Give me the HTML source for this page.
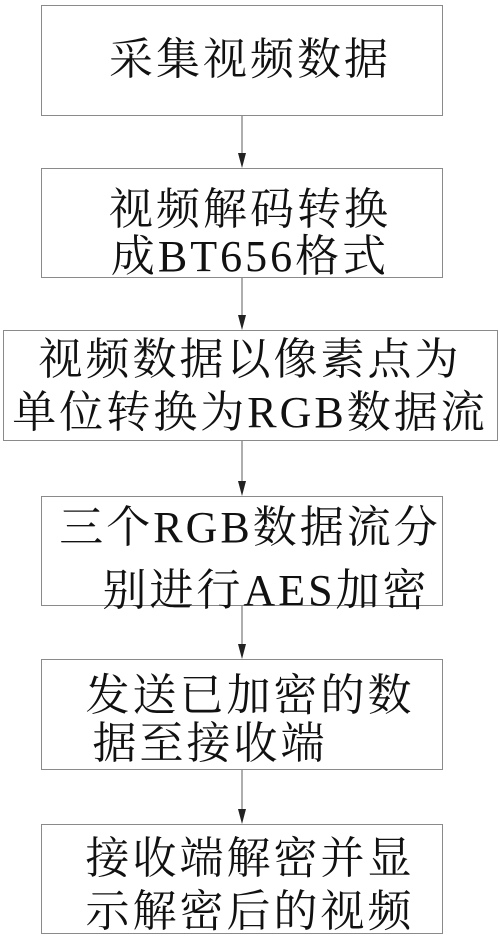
<!DOCTYPE html>
<html><head><meta charset="utf-8"><style>
body{margin:0;width:500px;height:936px;background:#fff;position:relative;overflow:hidden}
.b{position:absolute;border:1.5px solid #8a8a8a;box-sizing:border-box}
.t{position:absolute;left:0;width:500px;text-align:center;height:50px;line-height:50px;font-family:"Liberation Serif","Noto Serif CJK SC",serif;font-size:44px;letter-spacing:3px;color:#111;white-space:nowrap}
svg{position:absolute;left:0;top:0}
</style></head><body>
<div class="b" style="left:41px;top:5px;width:402px;height:111px"></div>
<div class="b" style="left:41px;top:168px;width:402px;height:110px"></div>
<div class="b" style="left:3px;top:330px;width:495px;height:111px"></div>
<div class="b" style="left:41px;top:496px;width:402px;height:110px"></div>
<div class="b" style="left:41px;top:659px;width:402px;height:111px"></div>
<div class="b" style="left:41px;top:824px;width:402px;height:110px"></div>
<svg width="500" height="936">
<g stroke="#777" stroke-width="1.2">
<line x1="242" y1="116" x2="242" y2="160"/>
<line x1="242" y1="278" x2="242" y2="322"/>
<line x1="242" y1="441" x2="242" y2="488"/>
<line x1="242" y1="606" x2="242" y2="651"/>
<line x1="242" y1="770" x2="242" y2="816"/>
</g>
<g fill="#222">
<polygon points="238,153 246,153 242,168"/>
<polygon points="238,315 246,315 242,330"/>
<polygon points="238,481 246,481 242,496"/>
<polygon points="238,644 246,644 242,659"/>
<polygon points="238,809 246,809 242,824"/>
</g>
</svg>
<div class="t" style="top:35px">采集视频数据</div>
<div class="t" style="top:185px">视频解码转换</div>
<div class="t" style="top:232px">成BT656格式</div>
<div class="t" style="top:335px">视频数据以像素点为</div>
<div class="t" style="top:388px">单位转换为RGB数据流</div>
<div class="t" style="top:503px">三个RGB数据流分</div>
<div class="t" style="top:566px;left:16px">别进行AES加密</div>
<div class="t" style="top:671px">发送已加密的数</div>
<div class="t" style="top:719px;left:-40px">据至接收端</div>
<div class="t" style="top:834px">接收端解密并显</div>
<div class="t" style="top:887px">示解密后的视频</div>
</body></html>
